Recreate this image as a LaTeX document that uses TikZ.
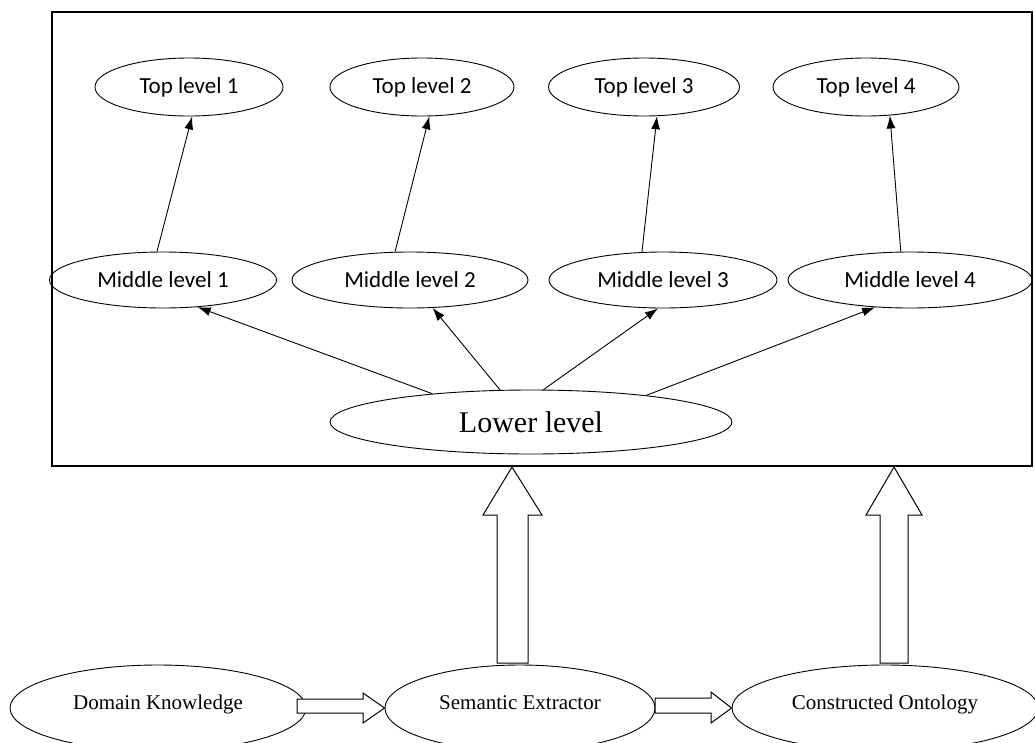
\documentclass[tikz,border=0pt]{standalone}
\usepackage{fontspec}
\setmainfont{Liberation Serif}
\newfontfamily\calib{Carlito}
\usetikzlibrary{shapes.geometric,arrows.meta}
\tikzset{
  lvl/.style={draw, ellipse, line width=0.9pt, inner sep=0pt, font=\calib\fontsize{23}{26}\selectfont},
  botel/.style={draw, ellipse, line width=0.9pt, inner sep=0pt, text height=12pt, text depth=10pt, font=\fontsize{21}{24}\selectfont},
  link/.style={line width=0.9pt, -{Latex[length=13pt,width=9pt]}},
  blk/.style={draw, line width=1pt, fill=white, line join=miter},
}
\begin{document}
\begin{tikzpicture}[x=1pt,y=-1pt]
\useasboundingbox (0,0) rectangle (1035,742);
\clip (0,0) rectangle (1035,742);
\draw[line width=1.4pt] (52,12) rectangle (1032,466);
% top level
\node[lvl, minimum width=188pt, minimum height=58pt] (t1) at (189,87) {\raisebox{-2pt}{Top level 1}};
\node[lvl, minimum width=184pt, minimum height=58pt] (t2) at (422,87) {\raisebox{-2pt}{Top level 2}};
\node[lvl, minimum width=191pt, minimum height=58pt] (t3) at (644,87) {\raisebox{-2pt}{Top level 3}};
\node[lvl, minimum width=186pt, minimum height=58pt] (t4) at (866,87) {\raisebox{-2pt}{Top level 4}};
% middle level
\node[lvl, minimum width=227pt, minimum height=56pt] (m1) at (163,280) {Middle level 1};
\node[lvl, minimum width=236pt, minimum height=56pt] (m2) at (410,280) {Middle level 2};
\node[lvl, minimum width=228pt, minimum height=56pt] (m3) at (663,280) {Middle level 3};
\node[lvl, minimum width=244pt, minimum height=56pt] (m4) at (910,280) {Middle level 4};
% lower level
\node[draw, ellipse, line width=0.9pt, inner sep=0pt, minimum width=402pt, minimum height=64pt, font=\fontsize{30}{34}\selectfont] (low) at (531,422) {Lower level};
% bottom row
\node[botel, minimum width=296pt, minimum height=86pt] (dk) at (158,708) {Domain Knowledge};
\node[botel, minimum width=270pt, minimum height=86pt] (se) at (520,708) {Semantic Extractor};
\node[botel, minimum width=306pt, minimum height=86pt] (co) at (885,708) {Constructed Ontology};
% middle -> top
\draw[link] (m1.102) -- (t1.-84);
\draw[link] (m2.118) -- (t2.-76);
\draw[link] (m3.127) -- (t3.-66);
\draw[link] (m4.108) -- (t4.-50);
% lower -> middle
\draw[link] (low.164.7) -- (m1.-38);
\draw[link] (low.134.5) -- (m2.-51);
\draw[link] (low.69.4) -- (m3.-100);
\draw[link] (low.13.4) -- (m4.-142);
% block arrows
\draw[blk] (297,699) -- (363,699) -- (363,693) -- (dk.east -| se.west) -- (363,723) -- (363,713) -- (297,713) -- cycle;
\draw[blk] (655,698) -- (711,698) -- (711,692) -- (se.east -| co.west) -- (711,723) -- (711,713) -- (655,713) -- cycle;
\draw[blk] (497,663) -- (497,515) -- (483,515) -- (512,467) -- (542,515) -- (528,515) -- (528,663) -- cycle;
\draw[blk] (880,663) -- (880,515) -- (866,515) -- (894,467) -- (922,515) -- (908,515) -- (908,663) -- cycle;
\end{tikzpicture}
\end{document}
